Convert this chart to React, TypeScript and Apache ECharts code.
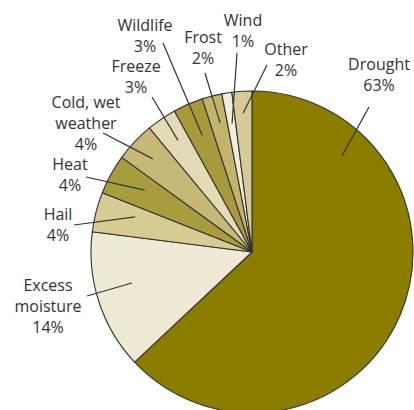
import React, { useEffect, useRef } from "react";
import * as echarts from "echarts";

// ---- data ----
const categories = [
  "Drought",
  "Excess\nmoisture",
  "Hail",
  "Heat",
  "Cold, wet\nweather",
  "Freeze",
  "Wildlife",
  "Frost",
  "Wind",
  "Other",
];
const shares = [63, 14, 4, 4, 4, 3, 3, 2, 1, 2];
const colors = [
  "#8b7d00",
  "#eeead5",
  "#d7cc94",
  "#a99c3c",
  "#c8b877",
  "#e2dbb5",
  "#a89a3a",
  "#c3b46a",
  "#f0edd9",
  "#d6cb97",
];

// ---- label layout (positions only) ----
const labelCenters: [number, number][] = [
  [379, 74],
  [48, 306],
  [58, 224],
  [70, 174],
  [86, 123],
  [136, 76],
  [145, 35],
  [203, 47],
  [243, 30],
  [286, 59],
];
const lineEnds: [number, number][] = [
  [369, 107],
  [87, 296],
  [74, 225],
  [86, 177],
  [103, 133],
  [152, 97],
  [163, 43],
  [205, 73],
  [237, 53],
  [267, 65],
];
// fraction along the slice's angular span, and radius, where the leader line starts
const anchorFrac = [0.19, 0.57, 0.66, 0.58, 0.5, 0.56, 0.53, 0.57, 0.55, 0.49];
const anchorRadius = [132, 124, 122, 124, 136, 134, 127, 133, 130, 139];

const CX = 252;
const CY = 252;
const R = 161;

export default function App() {
  const ref = useRef<HTMLDivElement>(null);
  useEffect(() => {
    document.body.style.margin = "0";
    const chart = echarts.init(ref.current!, undefined, { renderer: "svg" });
    const total = shares.reduce((a, b) => a + b, 0);
    const starts: number[] = [];
    let acc = 0;
    shares.forEach((v) => {
      starts.push(acc);
      acc += v;
    });
    const anchor = (i: number): [number, number] => {
      const deg = ((starts[i] + anchorFrac[i] * shares[i]) / total) * 360;
      const rad = (deg * Math.PI) / 180;
      return [CX + anchorRadius[i] * Math.sin(rad), CY - anchorRadius[i] * Math.cos(rad)];
    };
    const leaderLines = shares.map((_, i) => {
      const s = anchor(i);
      const e = lineEnds[i];
      return {
        type: "line",
        z: 100,
        silent: true,
        shape: { x1: s[0], y1: s[1], x2: e[0], y2: e[1] },
        style: { stroke: "#333333", lineWidth: 1.2 },
      };
    });
    chart.setOption({
      animation: false,
      backgroundColor: "#ffffff",
      graphic: { elements: leaderLines },
      series: [
        {
          type: "pie",
          center: [CX, CY],
          radius: R,
          startAngle: 90,
          clockwise: true,
          avoidLabelOverlap: false,
          emphasis: { disabled: true, scale: false },
          itemStyle: { borderColor: "#333333", borderWidth: 1.1 },
          label: {
            show: true,
            formatter: (p: any) => `${p.name}\n${p.value}%`,
            fontFamily: '"Open Sans", "Liberation Sans", Arial, sans-serif',
            fontSize: 16,
            lineHeight: 21,
            color: "#333333",
          },
          labelLine: { show: false },
          labelLayout: (params: any) => {
            const i = params.dataIndex;
            return {
              x: labelCenters[i][0],
              y: labelCenters[i][1],
              align: "center",
              verticalAlign: "middle",
            };
          },
          data: categories.map((name, i) => ({
            name,
            value: shares[i],
            itemStyle: { color: colors[i] },
          })),
        },
      ],
    });
    return () => chart.dispose();
  }, []);
  return (
    <div
      ref={ref}
      style={{ position: "absolute", left: 0, top: 0, width: 414, height: 410 }}
    />
  );
}
